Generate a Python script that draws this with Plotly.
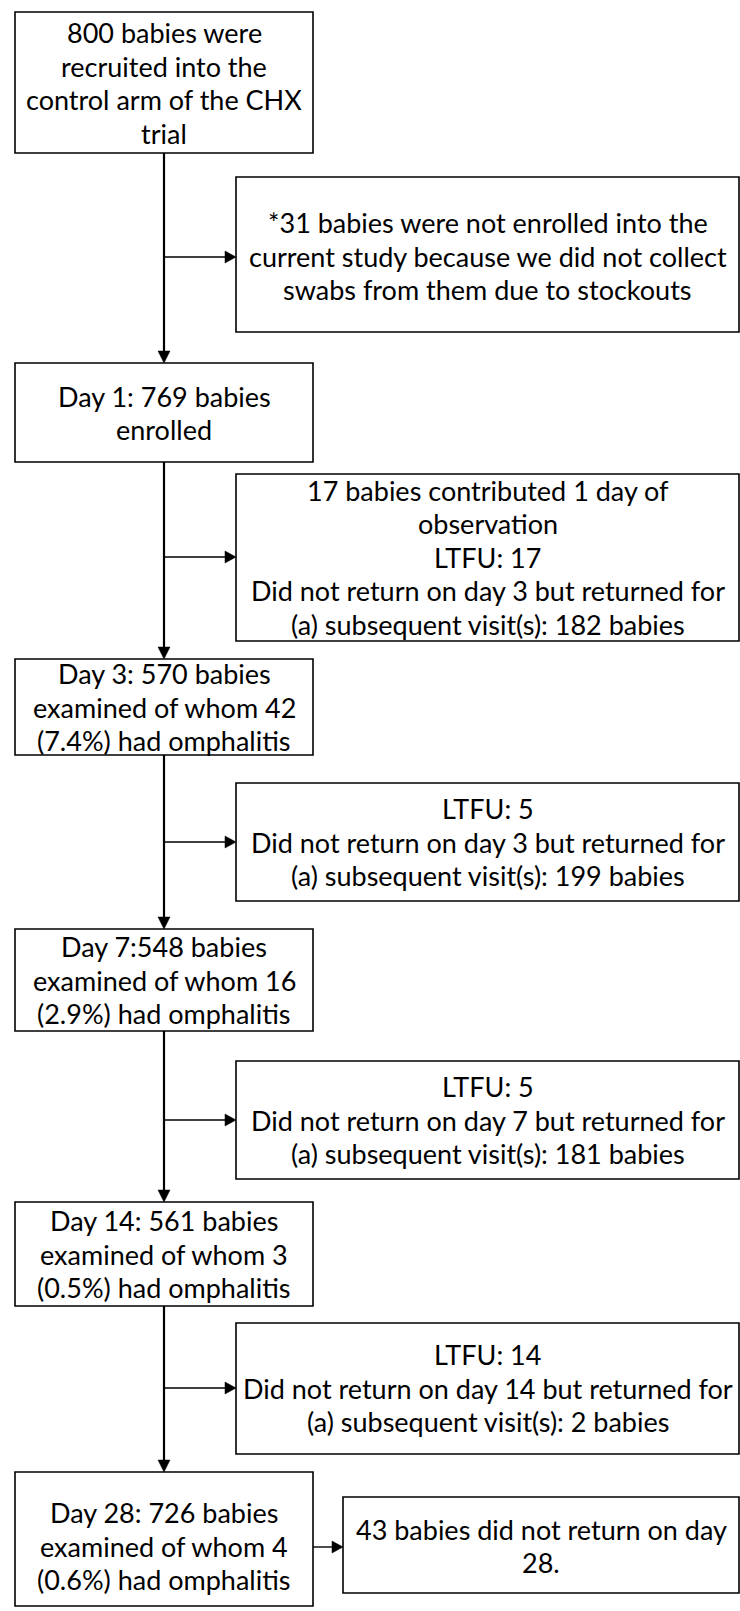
import plotly.graph_objects as go

# ---- content (text of the flow chart) ----
main_labels = [
    "800 babies were<br>recruited into the<br>control arm of the CHX<br>trial",
    "Day 1: 769 babies<br>enrolled",
    "Day 3: 570 babies<br>examined of whom 42<br>(7.4%) had omphalitis",
    "Day 7:548 babies<br>examined of whom 16<br>(2.9%) had omphalitis",
    "Day 14: 561 babies<br>examined of whom 3<br>(0.5%) had omphalitis",
    "Day 28: 726 babies<br>examined of whom 4<br>(0.6%) had omphalitis",
]
side_labels = [
    "*31 babies were not enrolled into the<br>current study because we did not collect<br>swabs from them due to stockouts",
    "17 babies contributed 1 day of<br>observation<br>LTFU: 17<br>Did not return on day 3 but returned for<br>(a) subsequent visit(s): 182 babies",
    "LTFU: 5<br>Did not return on day 3 but returned for<br>(a) subsequent visit(s): 199 babies",
    "LTFU: 5<br>Did not return on day 7 but returned for<br>(a) subsequent visit(s): 181 babies",
    "LTFU: 14<br>Did not return on day 14 but returned for<br>(a) subsequent visit(s): 2 babies",
    "43 babies did not return on day<br>28.",
]

# ---- layout geometry (page pixels) ----
W, H = 740, 1611
main_x0, main_x1 = 15, 313
main_cx = 164
main_top = [12, 363, 659, 929, 1202, 1472]
main_bot = [153, 462, 755, 1031, 1306, 1606]
main_ty = [83, 413, 707, 980, 1254, 1546]
side_x0 = [236, 236, 236, 236, 236, 343]
side_x1 = 739
side_top = [177, 474, 783, 1061, 1323, 1497]
side_bot = [332, 641, 901, 1179, 1454, 1593]
side_ty = [256, 557, 842, 1120, 1388, 1546]
arrow_y = [257, 557, 842, 1120, 1388, 1547]
LINE_H = 33.5

FONT = dict(family="Lato, Carlito, sans-serif", size=27, color="black")
shapes, annotations = [], []

def rect(x0, y0, x1, y1):
    shapes.append(dict(type="rect", xref="x", yref="y", x0=x0, x1=x1, y0=y0, y1=y1,
                       line=dict(color="black", width=1.6), fillcolor="white", layer="below"))

def line(x0, y0, x1, y1, w):
    shapes.append(dict(type="line", xref="x", yref="y", x0=x0, x1=x1, y0=y0, y1=y1,
                       line=dict(color="black", width=w)))

def tri(path):
    shapes.append(dict(type="path", xref="x", yref="y", path=path,
                       fillcolor="black", line=dict(color="black", width=0.5)))

def text_block(label, cx, cy):
    rows = label.split("<br>")
    n = len(rows)
    for k, row in enumerate(rows):
        annotations.append(dict(x=cx, y=cy + (k - (n - 1) / 2) * LINE_H, xref="x", yref="y",
                                text=row, showarrow=False, font=FONT, align="center",
                                xanchor="center", yanchor="middle"))

for i, lab in enumerate(main_labels):
    rect(main_x0, main_top[i], main_x1, main_bot[i])
    text_block(lab, (main_x0 + main_x1) / 2, main_ty[i])
for i, lab in enumerate(side_labels):
    rect(side_x0[i], side_top[i], side_x1, side_bot[i])
    text_block(lab, (side_x0[i] + side_x1) / 2, side_ty[i])

# vertical connectors with arrowheads
for i in range(len(main_labels) - 1):
    y0, y1 = main_bot[i], main_top[i + 1]
    line(main_cx, y0, main_cx, y1 - 10, 2.2)
    tri(f"M {main_cx-6},{y1-12} L {main_cx+6},{y1-12} L {main_cx},{y1} Z")

# horizontal branch arrows
for i in range(len(side_labels)):
    x_start = main_cx if i < 5 else main_x1
    x_end = side_x0[i]
    y = arrow_y[i]
    line(x_start, y, x_end - 10, y, 1.4)
    tri(f"M {x_end-11},{y-6} L {x_end-11},{y+6} L {x_end},{y} Z")

fig = go.Figure()
fig.update_layout(
    width=W, height=H, autosize=False,
    margin=dict(l=0, r=0, t=0, b=0),
    paper_bgcolor="white", plot_bgcolor="white",
    xaxis=dict(range=[0, W], visible=False, fixedrange=True),
    yaxis=dict(range=[H, 0], visible=False, fixedrange=True),
    shapes=shapes, annotations=annotations, showlegend=False,
)
fig.write_html("out.html", config=dict(displayModeBar=False),
               post_script="document.body.style.margin='0';")
